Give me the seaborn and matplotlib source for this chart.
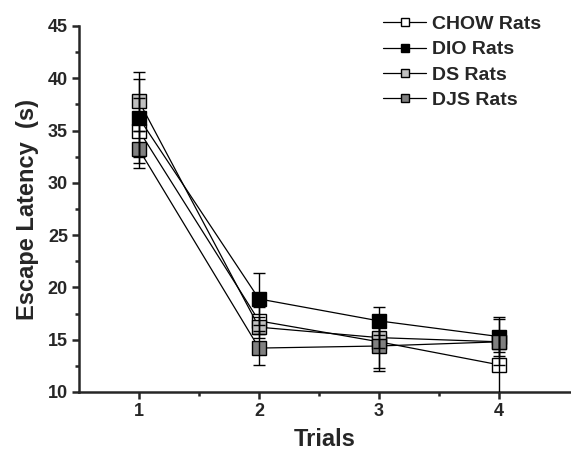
import numpy as np
import pandas as pd
import matplotlib
matplotlib.use('Agg')
import matplotlib.pyplot as plt
import seaborn as sns

# values
trials = [1, 2, 3, 4]
groups = ['CHOW Rats', 'DIO Rats', 'DS Rats', 'DJS Rats']
chow_mean = [35.0, 16.8, 14.8, 12.6]
chow_err = [3.1, 1.3, 2.5, 3.0]
dio_mean = [36.2, 18.9, 16.8, 15.3]
dio_err = [3.7, 2.5, 1.35, 1.9]
ds_mean = [37.8, 16.2, 15.2, 14.8]
ds_err = [2.8, 1.0, 1.0, 1.0]
djs_mean = [33.2, 14.2, 14.4, 14.8]
djs_err = [1.8, 1.6, 2.4, 2.2]
fills = ['white', 'black', '#c0c0c0', '#808080']

means = [chow_mean, dio_mean, ds_mean, djs_mean]
errs = [chow_err, dio_err, ds_err, djs_err]

df = pd.DataFrame({
    'Trials': np.tile(trials, len(groups)),
    'Latency': np.concatenate(means),
    'Err': np.concatenate(errs),
    'Group': np.repeat(groups, len(trials)),
})

sns.set_style('ticks')
plt.rcParams['font.family'] = ['Liberation Sans', 'DejaVu Sans']
plt.rcParams['font.weight'] = 'bold'

fig = plt.figure(figsize=(5.71, 4.54), dpi=100)
ax = fig.add_axes([79 / 571, 62 / 454, 492 / 571, 366 / 454])

for g, fc in zip(groups, fills):
    d = df[df['Group'] == g]
    sns.lineplot(data=d, x='Trials', y='Latency', ax=ax, color='black',
                 lw=0.9, marker='s', markersize=10, markerfacecolor=fc,
                 markeredgecolor='black', markeredgewidth=1.0, label=g, zorder=3)
    ax.errorbar(d['Trials'], d['Latency'], yerr=d['Err'], fmt='none',
                ecolor='black', elinewidth=1.0, capsize=4, capthick=1.0, zorder=4)

ax.set_xlim(0.5, 4.6)
ax.set_ylim(10, 45)
ax.set_xticks(trials)
ax.set_xticks([1.5, 2.5, 3.5], minor=True)
ax.set_yticks(np.arange(10, 46, 5))
ax.set_yticks(np.arange(12.5, 45, 5), minor=True)
ax.tick_params(axis='both', which='major', labelsize=13, width=1.8, length=5,
               direction='out', pad=3)
ax.tick_params(axis='both', which='minor', width=1.8, length=3, direction='out')
for lab in ax.get_xticklabels() + ax.get_yticklabels():
    lab.set_fontweight('bold')

ax.set_xlabel('Trials', fontsize=17, fontweight='bold', labelpad=6)
ax.set_ylabel('Escape Latency  (s)', fontsize=17, fontweight='bold', labelpad=6)

sns.despine(ax=ax)
ax.spines['left'].set_linewidth(1.8)
ax.spines['bottom'].set_linewidth(1.8)

leg = ax.legend(loc='upper right', bbox_to_anchor=(0.955, 1.05), frameon=False,
                borderaxespad=0, handlelength=2.2, handletextpad=0.3,
                labelspacing=0.4, prop={'weight': 'bold', 'size': 14})
for h in leg.legend_handles:
    h.set_markersize(6)

fig.savefig('out.png', dpi=100)
